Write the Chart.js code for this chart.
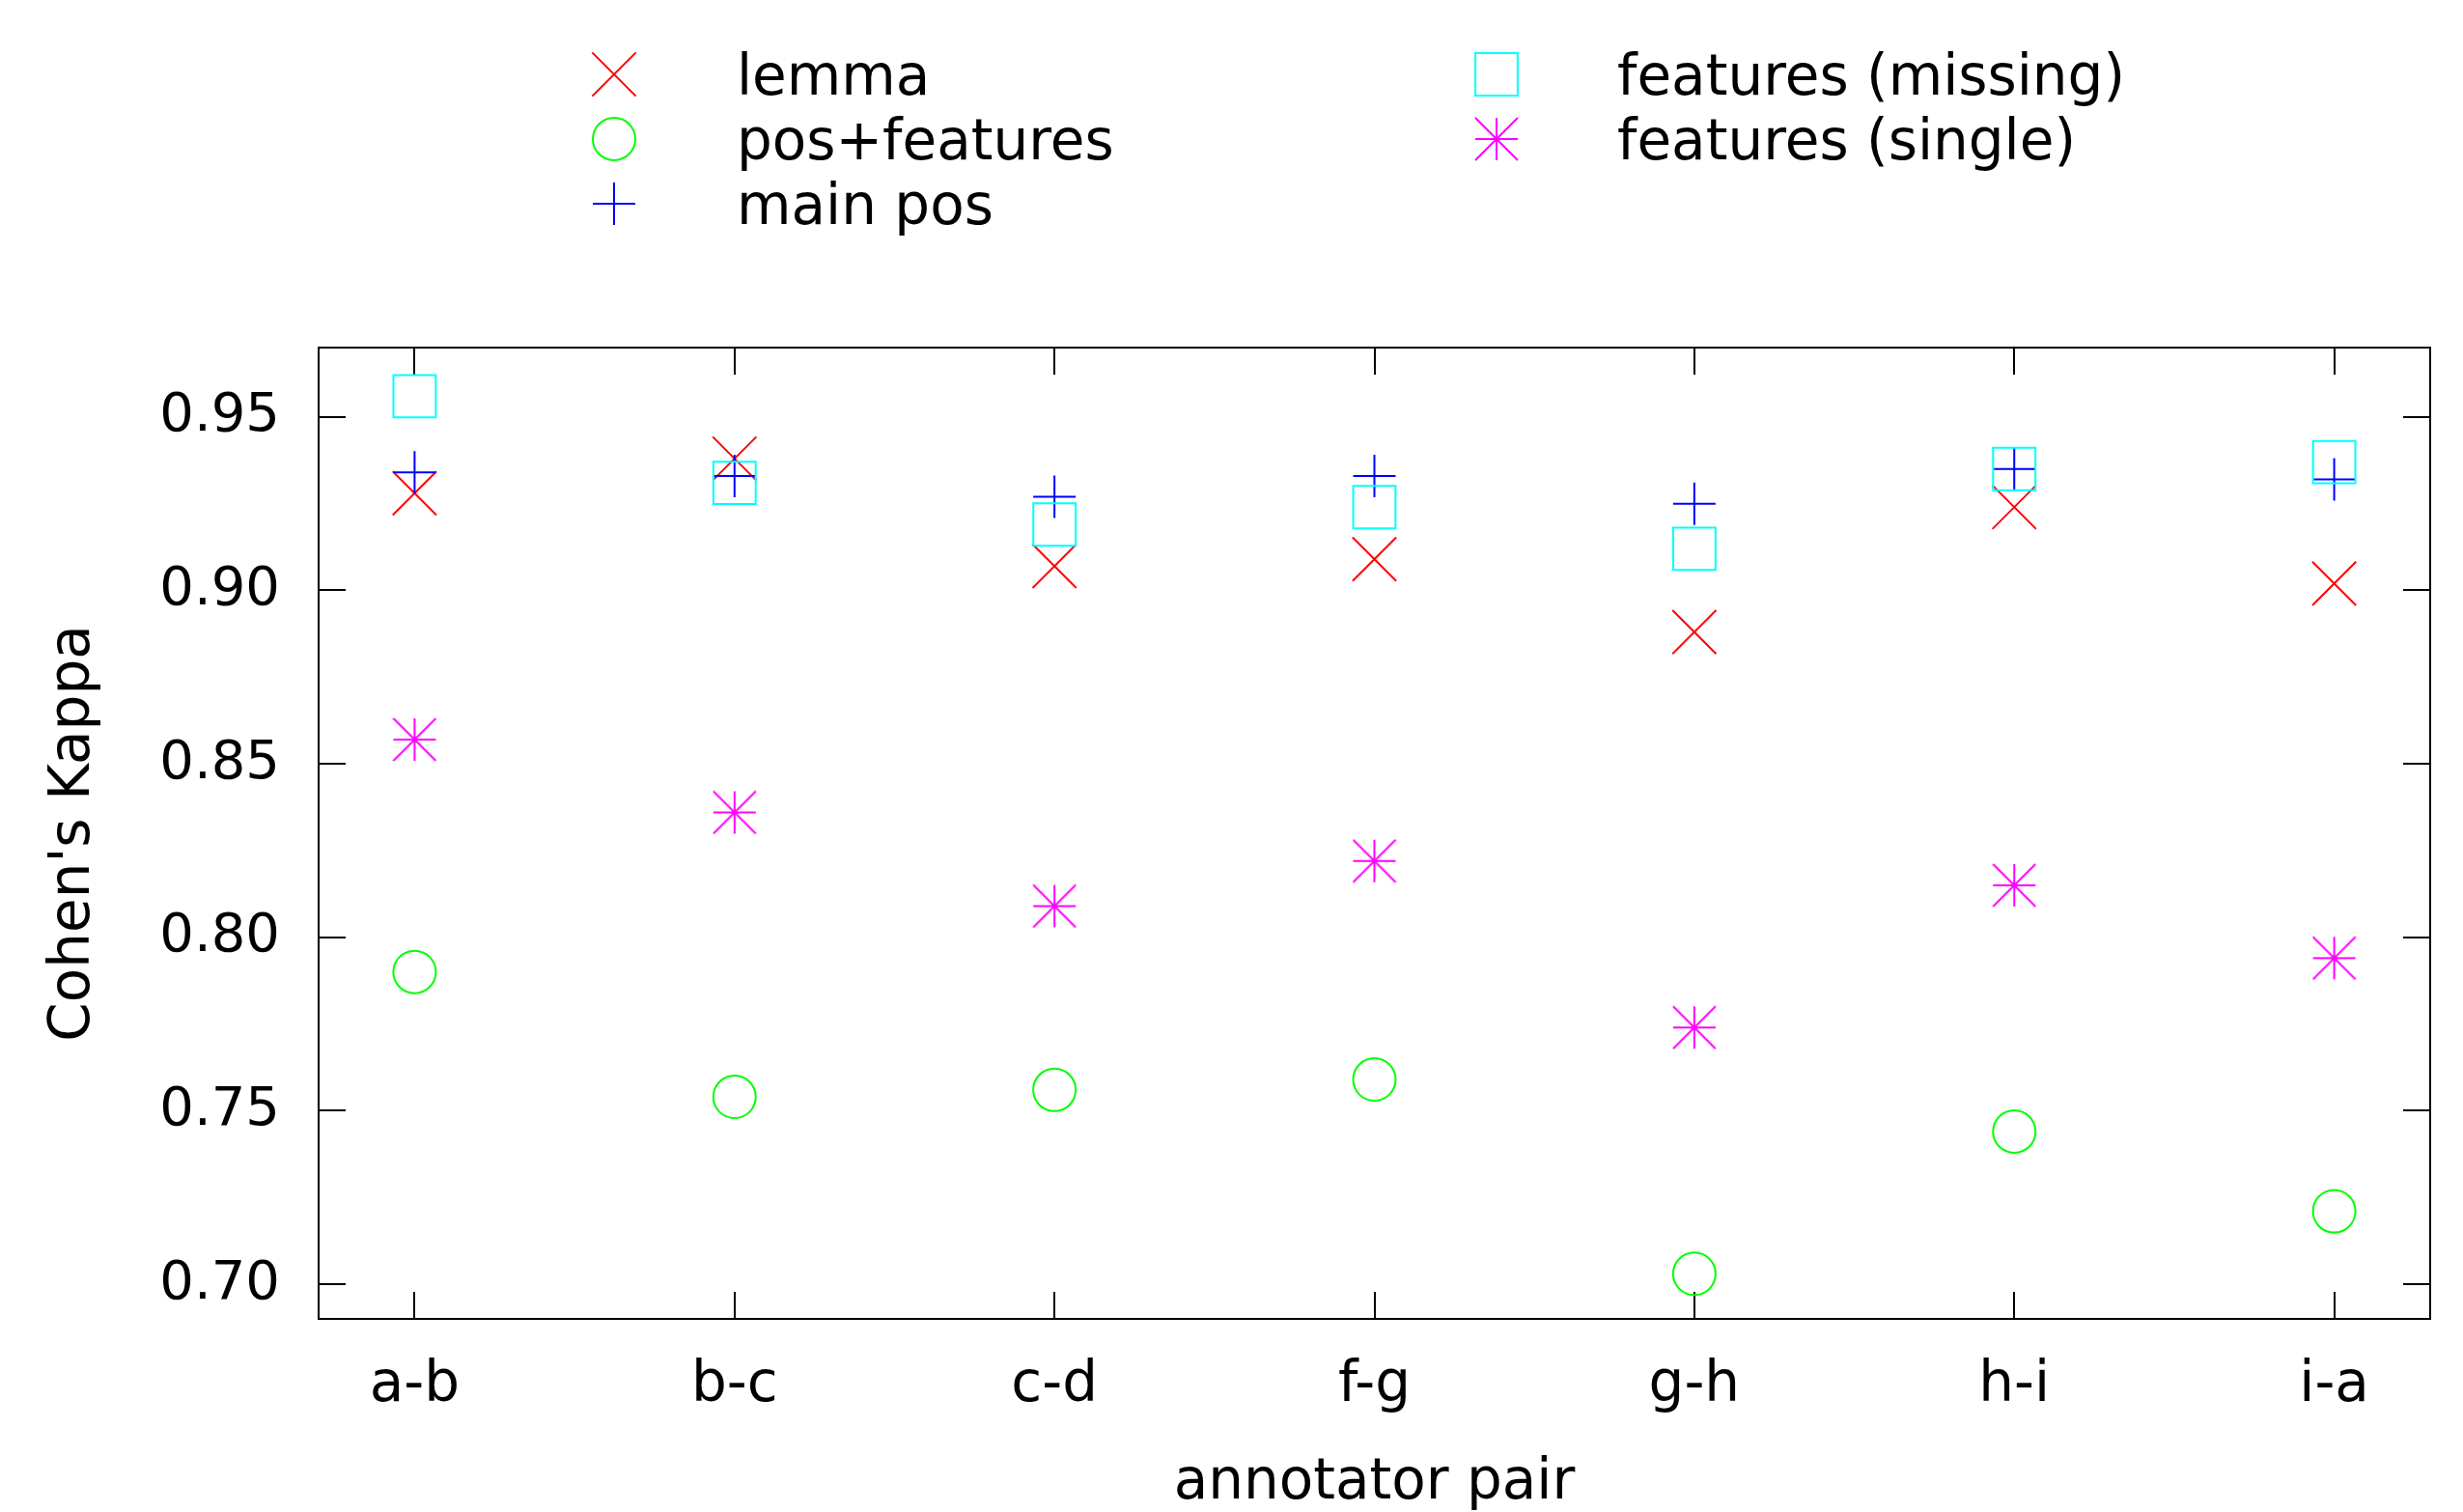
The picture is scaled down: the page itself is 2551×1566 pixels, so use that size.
<!DOCTYPE html>
<html>
<head>
<meta charset="utf-8">
<script src="https://cdn.jsdelivr.net/npm/chart.js@4/dist/chart.umd.min.js"></script>
<style>
  body { margin: 0; background: #fff; }
  canvas { display: block; }
</style>
</head>
<body>
<canvas id="kappaChart" width="2551" height="1566"></canvas>
<script>
const pairs = ['a-b', 'b-c', 'c-d', 'f-g', 'g-h', 'h-i', 'i-a'];
const lemma = [0.928, 0.938, 0.907, 0.909, 0.888, 0.924, 0.902];
const posFeatures = [0.790, 0.754, 0.756, 0.759, 0.703, 0.744, 0.721];
const mainPos = [0.934, 0.933, 0.927, 0.933, 0.925, 0.935, 0.932];
const featuresMissing = [0.956, 0.931, 0.919, 0.924, 0.912, 0.935, 0.937];
const featuresSingle = [0.857, 0.836, 0.809, 0.822, 0.774, 0.815, 0.794];
const yTicks = [0.70, 0.75, 0.80, 0.85, 0.90, 0.95];

const FONT = { family: '"DejaVu Sans", sans-serif', size: 58 };

// gnuplot style asterisk: 8 arms inside a square box
function starMarker(color, size) {
    const c = document.createElement('canvas');
    c.width = c.height = size;
    const g = c.getContext('2d');
    g.strokeStyle = color;
    g.lineWidth = 2;
    const a = 1, b = size - 1, m = size / 2;
    g.beginPath();
    g.moveTo(m, a); g.lineTo(m, b);
    g.moveTo(a, m); g.lineTo(b, m);
    g.moveTo(a, a); g.lineTo(b, b);
    g.moveTo(b, a); g.lineTo(a, b);
    g.stroke();
    return c;
}

function serie(label, values, color, style, radius, order) {
    return {
        label: label,
        data: values.map((v, i) => ({ x: i, y: v })),
        borderColor: color,
        backgroundColor: 'rgba(0,0,0,0)',
        pointStyle: style,
        pointRadius: radius,
        pointHoverRadius: radius,
        pointBorderWidth: 2,
        showLine: false,
        order: order
    };
}

const datasets = [
    serie('lemma', lemma, '#ff0000', 'crossRot', 32, 5),
    serie('pos+features', posFeatures, '#00ff00', 'circle', 22, 4),
    serie('main pos', mainPos, '#0000ff', 'cross', 22, 3),
    serie('features (missing)', featuresMissing, '#00ffff', 'rect', 31, 2),
    serie('features (single)', featuresSingle, '#ff00ff', starMarker('#ff00ff', 46), 23, 1)
];

// frame and inward ticks on all four sides, gnuplot like
const framePlugin = {
    id: 'frame',
    beforeDatasetsDraw(chart) {
        const { ctx, chartArea: a, scales } = chart;
        const len = 28;
        ctx.save();
        ctx.strokeStyle = '#000';
        ctx.lineWidth = 2;
        ctx.beginPath();
        pairs.forEach((p, i) => {
            const x = Math.round(scales.x.getPixelForValue(i));
            ctx.moveTo(x, a.bottom); ctx.lineTo(x, a.bottom - len);
            ctx.moveTo(x, a.top); ctx.lineTo(x, a.top + len);
        });
        yTicks.forEach(v => {
            const y = Math.round(scales.y.getPixelForValue(v));
            ctx.moveTo(a.left, y); ctx.lineTo(a.left + len, y);
            ctx.moveTo(a.right, y); ctx.lineTo(a.right - len, y);
        });
        ctx.stroke();
        ctx.strokeRect(a.left, a.top, a.right - a.left, a.bottom - a.top);
        ctx.restore();
    }
};

// two column legend above the plot (lemma.. in col 1, features.. in col 2)
const legendPlugin = {
    id: 'colLegend',
    afterDraw(chart) {
        const ctx = chart.ctx;
        const cols = [{ mark: 636, text: 763 }, { mark: 1550, text: 1675 }];
        const rows = [77, 144, 211];
        ctx.save();
        ctx.font = '58px "DejaVu Sans", sans-serif';
        ctx.textBaseline = 'alphabetic';
        chart.data.datasets.forEach((ds, i) => {
            const col = cols[i < 3 ? 0 : 1];
            const y = rows[i < 3 ? i : i - 3];
            ctx.strokeStyle = ds.borderColor;
            ctx.fillStyle = 'rgba(0,0,0,0)';
            ctx.lineWidth = 2;
            Chart.helpers.drawPoint(ctx, {
                pointStyle: ds.pointStyle,
                radius: ds.pointRadius,
                borderWidth: 2,
                rotation: 0
            }, col.mark, y);
            ctx.fillStyle = '#000';
            ctx.fillText(ds.label, col.text, y + 21);
        });
        ctx.restore();
    }
};

new Chart(document.getElementById('kappaChart'), {
    type: 'scatter',
    data: { datasets: datasets },
    plugins: [framePlugin, legendPlugin],
    options: {
        responsive: false,
        devicePixelRatio: 1,
        animation: false,
        events: [],
        layout: { padding: { top: 360, right: 32, left: 0, bottom: 0 } },
        plugins: {
            legend: { display: false },
            tooltip: { enabled: false }
        },
        scales: {
            x: {
                type: 'linear',
                min: -0.3,
                max: 6.3,
                afterBuildTicks: s => { s.ticks = pairs.map((p, i) => ({ value: i })); },
                afterFit: s => { s.height = 200; },
                grid: { display: false, drawTicks: false },
                border: { display: false },
                ticks: {
                    autoSkip: false,
                    maxRotation: 0,
                    padding: 35,
                    color: '#000',
                    font: FONT,
                    callback: v => pairs[v]
                },
                title: {
                    display: true,
                    text: 'annotator pair',
                    color: '#000',
                    font: FONT,
                    padding: { top: 0, bottom: -6 }
                }
            },
            y: {
                min: 0.69,
                max: 0.97,
                afterBuildTicks: s => { s.ticks = yTicks.map(v => ({ value: v })); },
                afterFit: s => { s.width = 330; },
                grid: { display: false, drawTicks: false },
                border: { display: false },
                ticks: {
                    padding: 40,
                    color: '#000',
                    font: { family: FONT.family, size: 56 },
                    callback: v => v.toFixed(2)
                },
                title: {
                    display: true,
                    text: "Cohen's Kappa",
                    color: '#000',
                    font: FONT,
                    padding: { top: 42, bottom: 0 }
                }
            }
        }
    }
});
</script>
</body>
</html>
